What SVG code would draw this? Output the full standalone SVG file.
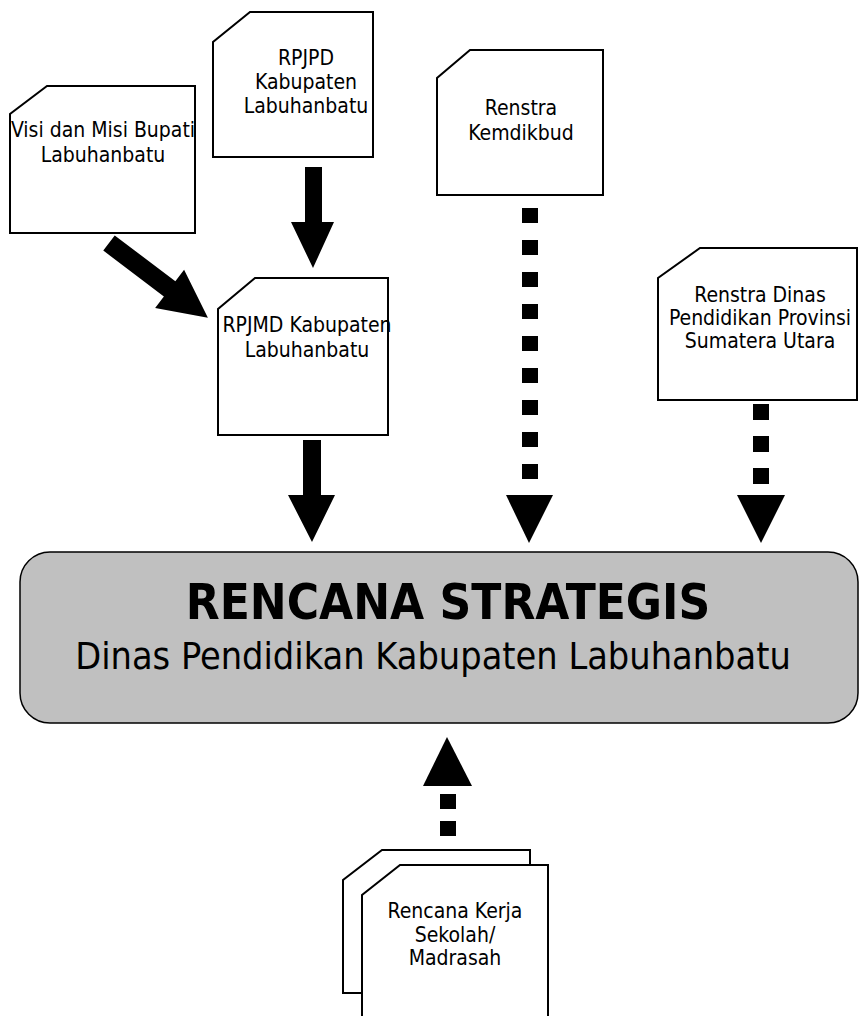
<svg xmlns="http://www.w3.org/2000/svg" width="859" height="1016" viewBox="0 0 859 1016">
<style>
.doc{fill:#fff;stroke:#000;stroke-width:2;stroke-linejoin:miter}
.t{font-family:"DejaVu Sans Condensed","DejaVu Sans","Liberation Sans",sans-serif;font-stretch:condensed;font-size:21px;fill:#000;text-anchor:middle}
.main{fill:#c0c0c0;stroke:#000;stroke-width:1.5}
.ah{fill:#000;stroke:none}
.title{font-family:"DejaVu Sans Condensed","DejaVu Sans","Liberation Sans",sans-serif;font-stretch:condensed;font-size:49px;font-weight:bold;text-anchor:middle}
.sub{font-family:"DejaVu Sans Condensed","DejaVu Sans","Liberation Sans",sans-serif;font-stretch:condensed;font-size:37.5px;text-anchor:middle}
</style>
<rect width="859" height="1016" fill="#fff"/>
<g id="connectors">
  <polygon class="ah" points="305,167 322,167 322,222 334,222 313,268 291,222 305,222"/>
  <polygon class="ah" points="303,440 321,440 321,495 335,495 312,542 288,495 303,495"/>
  <g transform="translate(109,243) rotate(37.1)">
    <polygon class="ah" points="0,-9.5 76,-9.5 76,-24 124,0 76,24 76,9.5 0,9.5"/>
  </g>
  <g class="ah">
    <rect x="522" y="208" width="16" height="15"/>
    <rect x="522" y="240" width="16" height="15"/>
    <rect x="522" y="272" width="16" height="15"/>
    <rect x="522" y="304" width="16" height="15"/>
    <rect x="522" y="336" width="16" height="15"/>
    <rect x="522" y="368" width="16" height="15"/>
    <rect x="522" y="400" width="16" height="15"/>
    <rect x="522" y="432" width="16" height="15"/>
    <rect x="522" y="464" width="16" height="15"/>
    <polygon points="506,495 553,495 529,543"/>
  </g>
  <g class="ah">
    <rect x="753" y="404" width="16" height="16"/>
    <rect x="753" y="436" width="16" height="16"/>
    <rect x="753" y="468" width="16" height="16"/>
    <polygon points="737,495 785,495 761,543"/>
  </g>
  <g class="ah">
    <polygon points="423,786 472,786 447,737"/>
    <rect x="440" y="794" width="16" height="15"/>
    <rect x="440" y="821" width="16" height="15"/>
  </g>
</g>
<g id="visi">
  <polygon class="doc" points="47,86 195,86 195,233 10,233 10,114"/>
  <text class="t" x="103" y="137">Visi dan Misi Bupati</text>
  <text class="t" x="103" y="162">Labuhanbatu</text>
</g>
<g id="rpjpd">
  <polygon class="doc" points="250,12 373,12 373,157 213,157 213,42"/>
  <text class="t" x="306" y="65">RPJPD</text>
  <text class="t" x="306" y="89">Kabupaten</text>
  <text class="t" x="306" y="113">Labuhanbatu</text>
</g>
<g id="kemdikbud">
  <polygon class="doc" points="470,50 603,50 603,195 437,195 437,78"/>
  <text class="t" x="521" y="115">Renstra</text>
  <text class="t" x="521" y="140">Kemdikbud</text>
</g>
<g id="renstra-dinas">
  <polygon class="doc" points="700,248 857,248 857,400 658,400 658,278"/>
  <text class="t" x="760" y="302">Renstra Dinas</text>
  <text class="t" x="760" y="325">Pendidikan Provinsi</text>
  <text class="t" x="760" y="348">Sumatera Utara</text>
</g>
<g id="rpjmd">
  <polygon class="doc" points="255,278 388,278 388,435 218,435 218,309"/>
  <text class="t" x="307" y="332">RPJMD Kabupaten</text>
  <text class="t" x="307" y="357">Labuhanbatu</text>
</g>
<g id="renstra-main">
  <rect class="main" x="20" y="552" width="838" height="171" rx="30" ry="30"/>
  <text class="title" x="448" y="619">RENCANA STRATEGIS</text>
  <text class="sub" x="433" y="669">Dinas Pendidikan Kabupaten Labuhanbatu</text>
</g>
<g id="rencana-kerja">
  <polygon class="doc" points="382,850 530,850 530,993 343,993 343,880"/>
  <polygon class="doc" points="400,865 548,865 548,1020 362,1020 362,895"/>
  <text class="t" x="455" y="918">Rencana Kerja</text>
  <text class="t" x="455" y="942">Sekolah/</text>
  <text class="t" x="455" y="965">Madrasah</text>
</g>
</svg>
